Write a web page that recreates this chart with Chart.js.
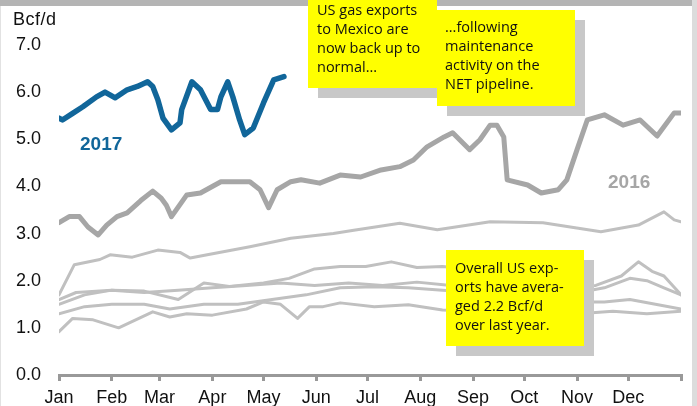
<!DOCTYPE html>
<html>
<head>
<meta charset="utf-8">
<script src="https://cdn.jsdelivr.net/npm/chart.js@4/dist/chart.umd.min.js"></script>
<style>
  html, body { margin: 0; padding: 0; background: #fff; }
  #wrap { position: relative; width: 697px; height: 406px; overflow: hidden; }
  #mychart { position: absolute; left: 0; top: 0; }
  .band-top { position: absolute; left: 0; top: 0; width: 692px; height: 6px; background: #b4b4b4; }
  .band-right { position: absolute; left: 692px; top: 0; width: 5px; height: 406px; background: #dcdcdc; }
  .band-left { position: absolute; left: 0; top: 6px; width: 1px; height: 400px; background: #e2e2e2; }
  .unit { position: absolute; left: 13px; top: 9px; font: 18px "Liberation Sans", Arial, sans-serif; letter-spacing: 0.5px; color: #111; }
  .yr { position: absolute; font: bold 19px "Liberation Sans", Arial, sans-serif; }
  .note { position: absolute; background: #ffff00; box-shadow: 10px 10px 0 #c8c8c8;
          font: 14.5px "Comic Sans MS", "Open Sans", sans-serif; line-height: 19px; color: #111;
          box-sizing: border-box; }
</style>
</head>
<body>
<div id="wrap">
  <canvas id="mychart" width="697" height="406"></canvas>
  <div class="band-top"></div>
  <div class="band-right"></div>
  <div class="band-left"></div>
  <div class="unit">Bcf/d</div>
  <div class="yr" style="left:80px; top:133px; color:#11669a;">2017</div>
  <div class="yr" style="left:608px; top:171px; color:#a6a6a6;">2016</div>
  <div class="note" style="left:308px; top:0px; width:129px; height:88px; padding:0 0 0 9px;">US gas exports<br>to Mexico are<br>now back up to<br>normal...</div>
  <div class="note" style="left:437px; top:10px; width:138px; height:96px; padding:7px 0 0 8px;">...following<br>maintenance<br>activity on the<br>NET pipeline.</div>
  <div class="note" style="left:446px; top:250px; width:138px; height:96px; padding:8px 0 0 9px;">Overall US exp-<br>orts have avera-<br>ged 2.2 Bcf/d<br>over last year.</div>
</div>
<script>
const monthStarts = [0, 31, 59, 90, 120, 151, 181, 212, 243, 273, 304, 334, 365];
const monthLabels = ["Jan", "Feb", "Mar", "Apr", "May", "Jun", "Jul", "Aug", "Sep", "Oct", "Nov", "Dec", ""];
const yTicks = [0, 1, 2, 3, 4, 5, 6, 7];

// 2017 (day of year, Bcf/d)
const days2017 = [0, 2, 8, 14, 22, 27, 33, 40, 46, 52, 55, 58, 61, 66, 71, 72, 78, 83, 89, 93, 95, 99, 102, 106, 109, 114, 120, 126, 132];
const vals2017 = [5.45, 5.41, 5.55, 5.69, 5.9, 6.0, 5.88, 6.05, 6.12, 6.22, 6.12, 5.84, 5.45, 5.2, 5.35, 5.63, 6.22, 6.05, 5.63, 5.63, 5.9, 6.22, 5.9, 5.41, 5.1, 5.24, 5.77, 6.26, 6.33];

// 2016
const days2016 = [0, 6, 12, 17, 23, 28, 34, 40, 48, 55, 60, 63, 66, 75, 83, 95, 112, 118, 123, 128, 136, 142, 153, 165, 177, 189, 200, 208, 216, 226, 231, 241, 247, 253, 257, 261, 263, 275, 283, 293, 298, 304, 310, 320, 331, 341, 351, 361, 365];
const vals2016 = [3.23, 3.36, 3.36, 3.14, 2.97, 3.18, 3.36, 3.44, 3.7, 3.9, 3.75, 3.6, 3.36, 3.82, 3.86, 4.1, 4.1, 3.93, 3.55, 3.93, 4.1, 4.14, 4.07, 4.24, 4.2, 4.35, 4.42, 4.56, 4.84, 5.05, 5.14, 4.78, 4.99, 5.3, 5.3, 5.05, 4.14, 4.03, 3.86, 3.93, 4.14, 4.78, 5.41, 5.52, 5.3, 5.41, 5.07, 5.56, 5.56];

// earlier years (thin lines)
const daysA = [0, 9, 24, 30, 43, 58, 71, 77, 87, 112, 136, 161, 173, 200, 222, 253, 284, 318, 340, 355, 361, 365];
const valsA = [1.7, 2.34, 2.45, 2.55, 2.5, 2.65, 2.6, 2.48, 2.55, 2.72, 2.9, 3.0, 3.07, 3.22, 3.08, 3.25, 3.23, 3.04, 3.18, 3.46, 3.29, 3.25];
const daysB = [0, 10, 31, 50, 70, 85, 100, 120, 135, 150, 165, 180, 195, 210, 225, 240, 255, 270, 285, 300, 315, 330, 340, 348, 355, 365];
const valsB = [1.6, 1.75, 1.8, 1.78, 1.6, 1.95, 1.88, 1.95, 2.05, 2.25, 2.3, 2.3, 2.4, 2.28, 2.3, 2.25, 2.2, 2.15, 2.0, 1.85, 1.9, 2.1, 2.4, 2.2, 2.1, 1.7];
const daysC = [0, 15, 31, 50, 70, 90, 110, 130, 150, 170, 190, 210, 230, 250, 270, 290, 305, 320, 335, 345, 355, 365];
const valsC = [1.5, 1.7, 1.8, 1.75, 1.8, 1.85, 1.9, 1.95, 1.9, 1.95, 1.9, 1.97, 1.9, 1.85, 1.8, 1.75, 1.75, 1.85, 2.05, 2.0, 1.85, 1.7];
const daysD = [0, 15, 31, 50, 65, 85, 105, 125, 145, 165, 185, 205, 225, 245, 265, 285, 305, 320, 335, 350, 365];
const valsD = [1.3, 1.45, 1.5, 1.5, 1.4, 1.5, 1.5, 1.6, 1.7, 1.85, 1.87, 1.85, 1.8, 1.75, 1.7, 1.6, 1.55, 1.55, 1.6, 1.5, 1.4];
const daysE = [0, 8, 20, 35, 45, 55, 65, 75, 90, 110, 120, 130, 140, 147, 155, 165, 185, 205, 225, 245, 265, 285, 305, 325, 345, 365];
const valsE = [0.92, 1.2, 1.17, 1.0, 1.17, 1.34, 1.23, 1.3, 1.27, 1.4, 1.55, 1.5, 1.2, 1.45, 1.45, 1.53, 1.45, 1.49, 1.38, 1.35, 1.3, 1.3, 1.3, 1.35, 1.3, 1.35];

const pts = (d, v) => d.map((x, i) => ({ x: x, y: v[i] }));

function line(d, v, color, width) {
  return {
    data: pts(d, v),
    borderColor: color,
    borderWidth: width,
    pointRadius: 0,
    tension: 0,
    borderJoinStyle: "round",
    borderCapStyle: "round",
  };
}

const data = {
  datasets: [
    line(days2017, vals2017, "#11669a", 5.5),
    line(days2016, vals2016, "#a6a6a6", 5),
    line(daysA, valsA, "#c0c0c0", 3),
    line(daysB, valsB, "#c0c0c0", 3),
    line(daysC, valsC, "#c0c0c0", 3),
    line(daysD, valsD, "#c0c0c0", 3),
    line(daysE, valsE, "#c0c0c0", 3),
  ],
};

const font = { family: "'Liberation Sans', Arial, sans-serif", size: 18 };

const config = {
  type: "line",
  data: data,
  options: {
    responsive: false,
    animation: false,
    layout: { padding: { top: 45, right: 16, left: 0, bottom: 0 } },
    plugins: { legend: { display: false }, tooltip: { enabled: false } },
    scales: {
      x: {
        type: "linear",
        min: 0,
        max: 365,
        afterBuildTicks: (axis) => { axis.ticks = monthStarts.map((v) => ({ value: v })); },
        afterFit: (axis) => { axis.height = 31; },
        ticks: {
          color: "#111",
          font: font,
          padding: 6,
          maxRotation: 0,
          autoSkip: false,
          callback: (v) => monthLabels[monthStarts.indexOf(v)],
        },
        grid: { drawOnChartArea: false, drawTicks: true, tickLength: 6, color: "#999", lineWidth: 3 },
        border: { display: true, color: "#999", width: 3 },
      },
      y: {
        min: 0,
        max: 7,
        afterBuildTicks: (axis) => { axis.ticks = yTicks.map((v) => ({ value: v })); },
        afterFit: (axis) => { axis.width = 59; },
        ticks: { color: "#111", font: font, padding: 18, callback: (v) => v.toFixed(1) },
        grid: { display: false, drawTicks: false },
        border: { display: false },
      },
    },
  },
};

const mychart = new Chart(document.getElementById("mychart"), config);
</script>
</body>
</html>
